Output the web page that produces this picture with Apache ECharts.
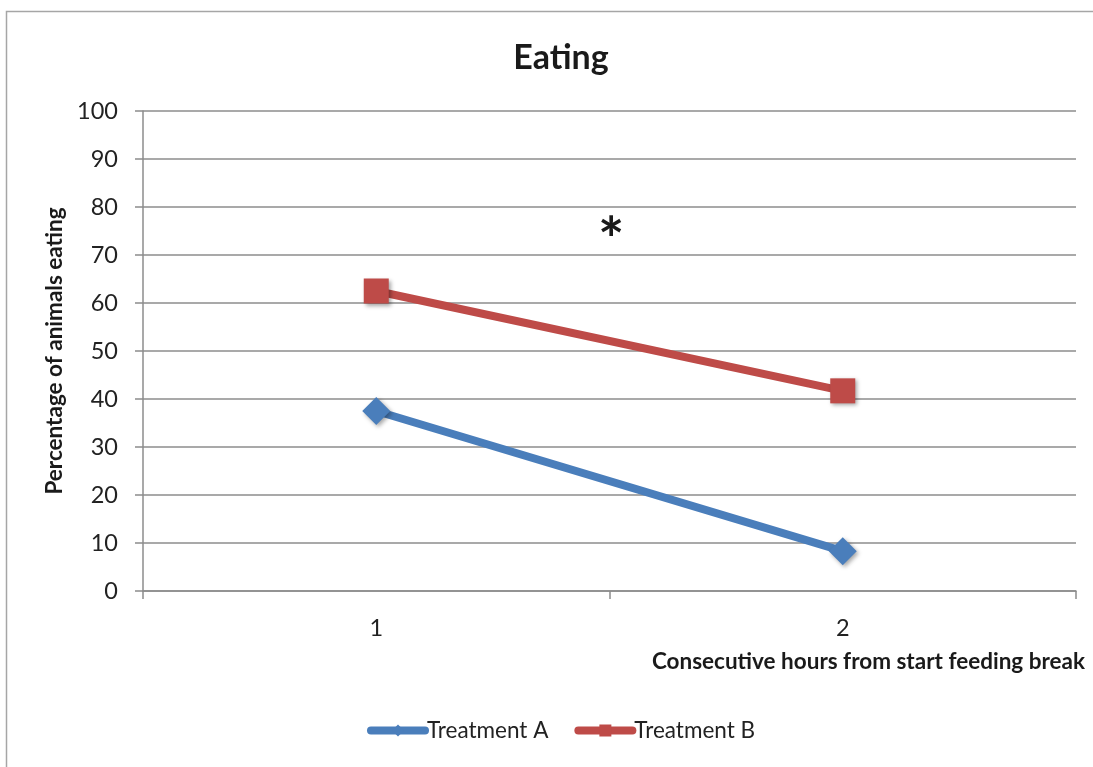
<!DOCTYPE html>
<html>
<head>
<meta charset="utf-8">
<script src="https://cdn.jsdelivr.net/npm/echarts@6/dist/echarts.min.js"></script>
<style>
  html, body { margin: 0; padding: 0; background: #fff; }
  #chart { width: 1093px; height: 767px; }
</style>
</head>
<body>
<div id="chart"></div>
<script>
// Hours since the feeding break started
const hours = ['1', '2'];
// Percentage of animals eating per treatment
const treatmentA = [37.5, 8.3];
const treatmentB = [62.5, 41.7];
const yTicks = { min: 0, max: 100, interval: 10 };

const FONT = 'Lato, "Open Sans", "Liberation Sans", sans-serif';
const chart = echarts.init(document.getElementById('chart'));

const markerShadow = {
  shadowColor: 'rgba(0,0,0,0.35)',
  shadowBlur: 4,
  shadowOffsetX: 2,
  shadowOffsetY: 2
};

chart.setOption({
  backgroundColor: '#fff',
  animation: false,
  textStyle: { fontFamily: FONT },
  title: {
    text: 'Eating',
    left: 556,
    top: 36,
    textAlign: 'center',
    textStyle: { fontFamily: FONT, fontSize: 34, fontWeight: 'bold', color: '#1a1a1a' }
  },
  graphic: [
    {
      type: 'rect',
      shape: { x: 6.5, y: 11.5, width: 1100, height: 800 },
      style: { fill: 'none', stroke: '#a6a6a6', lineWidth: 1.5 },
      silent: true
    },
    {
      // significance marker between the two hours
      type: 'text',
      left: 598,
      top: 211,
      style: { text: '*', font: 'bold 62px ' + FONT, fill: '#1a1a1a' },
      silent: true
    }
  ],
  legend: {
    bottom: 20,
    left: 362,
    itemWidth: 54,
    itemHeight: 15,
    itemGap: 26,
    lineStyle: { width: 8 },
    textStyle: { fontFamily: FONT, fontSize: 22.5, color: '#222', padding: [0, 0, 0, -3] },
    data: ['Treatment A', 'Treatment B']
  },
  grid: { left: 143, right: 17, top: 111, bottom: 176, containLabel: false },
  xAxis: {
    type: 'category',
    data: hours,
    boundaryGap: true,
    name: 'Consecutive hours from start feeding break',
    nameLocation: 'end',
    nameGap: 9,
    nameTextStyle: {
      fontFamily: FONT, fontSize: 22.5, fontWeight: 'bold', color: '#1a1a1a',
      align: 'right', verticalAlign: 'top', padding: [59, 0, 0, 0]
    },
    axisLine: { lineStyle: { color: '#8c8c8c', width: 1.5 } },
    axisTick: { show: true, length: 8, alignWithLabel: false, lineStyle: { color: '#8c8c8c', width: 1.5 } },
    axisLabel: { margin: 25, fontFamily: FONT, fontSize: 23.5, color: '#222' },
    splitLine: { show: false }
  },
  yAxis: {
    type: 'value',
    min: yTicks.min,
    max: yTicks.max,
    interval: yTicks.interval,
    name: 'Percentage of animals eating',
    nameLocation: 'middle',
    nameRotate: 90,
    nameGap: 74,
    nameTextStyle: { fontFamily: FONT, fontSize: 22.5, fontWeight: 'bold', color: '#1a1a1a' },
    axisLine: { show: true, lineStyle: { color: '#8c8c8c', width: 1.5 } },
    axisTick: { show: true, length: 8, lineStyle: { color: '#8c8c8c', width: 1.5 } },
    axisLabel: { margin: 25, fontFamily: FONT, fontSize: 23.5, color: '#222' },
    splitLine: { lineStyle: { color: '#8c8c8c', width: 1.5 } }
  },
  series: [
    {
      name: 'Treatment A',
      type: 'line',
      data: treatmentA,
      symbol: 'diamond',
      symbolSize: 28,
      color: '#4a7ebb',
      lineStyle: { width: 8, color: '#4a7ebb', cap: 'round' },
      itemStyle: Object.assign({ color: '#4a7ebb' }, markerShadow),
      z: 3
    },
    {
      name: 'Treatment B',
      type: 'line',
      data: treatmentB,
      symbol: 'rect',
      symbolSize: 25,
      color: '#be4b48',
      lineStyle: { width: 8, color: '#be4b48', cap: 'round' },
      itemStyle: Object.assign({ color: '#be4b48' }, markerShadow),
      z: 3
    }
  ]
});
</script>
</body>
</html>
